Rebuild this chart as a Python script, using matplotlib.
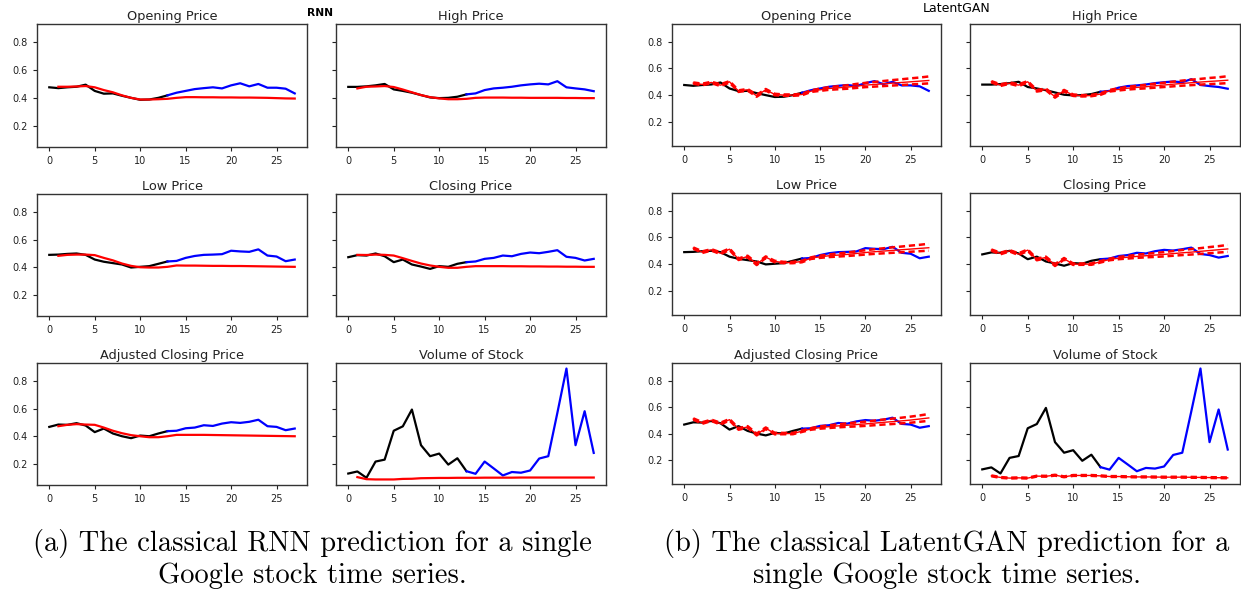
import matplotlib
matplotlib.use('Agg')
import matplotlib.pyplot as plt

# ---------------- data ----------------
titles = ["Opening Price", "High Price", "Low Price", "Closing Price",
          "Adjusted Closing Price", "Volume of Stock"]

steps = list(range(28))          # 0..27
hist_end = 13                    # black = history (0..13), blue = future (13..27)
pred_steps = list(range(1, 28))  # predictions start at step 1

open_true = [0.476, 0.47, 0.476, 0.48, 0.495, 0.45, 0.43, 0.432, 0.415, 0.40, 0.386, 0.388, 0.40, 0.418,
             0.437, 0.45, 0.463, 0.47, 0.476, 0.468, 0.49, 0.505, 0.483, 0.50, 0.473, 0.473, 0.466, 0.432]
high_true = [0.479, 0.479, 0.483, 0.49, 0.50, 0.461, 0.45, 0.437, 0.42, 0.403, 0.398, 0.40, 0.408, 0.425,
             0.432, 0.456, 0.468, 0.473, 0.48, 0.49, 0.497, 0.502, 0.497, 0.52, 0.476, 0.468, 0.461, 0.448]
low_true = [0.49, 0.492, 0.497, 0.50, 0.49, 0.456, 0.44, 0.43, 0.42, 0.398, 0.403, 0.408, 0.425, 0.442,
            0.446, 0.468, 0.482, 0.49, 0.492, 0.495, 0.52, 0.515, 0.512, 0.53, 0.485, 0.478, 0.444, 0.456]
close_true = [0.473, 0.488, 0.485, 0.50, 0.48, 0.437, 0.456, 0.42, 0.405, 0.388, 0.408, 0.403, 0.425, 0.437,
              0.442, 0.461, 0.468, 0.485, 0.48, 0.497, 0.507, 0.502, 0.512, 0.524, 0.476, 0.468, 0.449, 0.461]
adj_true = [0.468, 0.485, 0.483, 0.495, 0.478, 0.43, 0.456, 0.42, 0.40, 0.386, 0.405, 0.40, 0.42, 0.437,
            0.44, 0.458, 0.463, 0.48, 0.475, 0.492, 0.502, 0.497, 0.505, 0.52, 0.473, 0.468, 0.444, 0.456]
vol_true = [0.129, 0.144, 0.098, 0.216, 0.23, 0.44, 0.472, 0.594, 0.335, 0.255, 0.274, 0.194, 0.24, 0.146,
            0.127, 0.216, 0.166, 0.115, 0.14, 0.135, 0.151, 0.238, 0.255, 0.57, 0.892, 0.335, 0.582, 0.279]

# RNN predictions (steps 1..27)
rnn_open = [0.48, 0.48, 0.482, 0.485, 0.476, 0.456, 0.44, 0.418, 0.40, 0.388, 0.388, 0.39, 0.393, 0.40,
            0.405, 0.405, 0.404, 0.404, 0.403, 0.403, 0.402, 0.402, 0.401, 0.40, 0.398, 0.396, 0.395]
rnn_high = [0.468, 0.48, 0.482, 0.485, 0.478, 0.46, 0.44, 0.42, 0.405, 0.396, 0.39, 0.39, 0.393, 0.40,
            0.402, 0.402, 0.402, 0.401, 0.401, 0.40, 0.40, 0.40, 0.40, 0.399, 0.399, 0.398, 0.398]
rnn_low = [0.483, 0.49, 0.492, 0.492, 0.488, 0.468, 0.45, 0.427, 0.41, 0.40, 0.398, 0.398, 0.403, 0.413,
           0.412, 0.412, 0.411, 0.41, 0.41, 0.409, 0.409, 0.408, 0.407, 0.406, 0.405, 0.404, 0.403]
rnn_close = [0.49, 0.489, 0.492, 0.49, 0.485, 0.466, 0.446, 0.427, 0.413, 0.403, 0.396, 0.396, 0.403, 0.408,
             0.408, 0.408, 0.408, 0.407, 0.407, 0.406, 0.406, 0.405, 0.405, 0.404, 0.404, 0.403, 0.403]
rnn_adj = [0.473, 0.483, 0.488, 0.485, 0.483, 0.463, 0.44, 0.422, 0.408, 0.40, 0.393, 0.393, 0.40, 0.41,
           0.41, 0.41, 0.41, 0.409, 0.408, 0.407, 0.406, 0.405, 0.404, 0.403, 0.402, 0.401, 0.40]
rnn_vol = [0.103, 0.088, 0.086, 0.086, 0.086, 0.09, 0.091, 0.095, 0.096, 0.097, 0.097, 0.098, 0.098, 0.098,
           0.099, 0.099, 0.099, 0.099, 0.1, 0.1, 0.1, 0.1, 0.1, 0.1, 0.1, 0.1, 0.1]

# LatentGAN predictions (steps 1..27): mean, upper and lower
gan_open = [0.49, 0.48, 0.495, 0.475, 0.50, 0.43, 0.44, 0.395, 0.44, 0.405, 0.40, 0.40, 0.405, 0.43,
            0.44, 0.45, 0.455, 0.46, 0.468, 0.475, 0.48, 0.485, 0.49, 0.495, 0.50, 0.505, 0.51]
gan_open_hi = [0.495, 0.486, 0.50, 0.482, 0.505, 0.436, 0.446, 0.402, 0.446, 0.41, 0.405, 0.405, 0.41, 0.436,
               0.449, 0.46, 0.467, 0.474, 0.484, 0.492, 0.499, 0.506, 0.513, 0.519, 0.526, 0.532, 0.54]
gan_open_lo = [0.485, 0.474, 0.49, 0.468, 0.494, 0.424, 0.434, 0.388, 0.434, 0.399, 0.395, 0.395, 0.399, 0.424,
               0.432, 0.44, 0.444, 0.448, 0.454, 0.46, 0.464, 0.468, 0.472, 0.476, 0.48, 0.484, 0.488]

gan_high = [0.50, 0.475, 0.49, 0.475, 0.50, 0.433, 0.443, 0.388, 0.433, 0.40, 0.395, 0.397, 0.408, 0.433,
            0.443, 0.452, 0.458, 0.463, 0.47, 0.476, 0.482, 0.488, 0.493, 0.498, 0.503, 0.507, 0.512]
gan_high_hi = [0.505, 0.481, 0.495, 0.482, 0.505, 0.439, 0.449, 0.395, 0.439, 0.405, 0.40, 0.402, 0.413, 0.439,
               0.452, 0.462, 0.47, 0.477, 0.486, 0.493, 0.501, 0.509, 0.516, 0.522, 0.529, 0.534, 0.542]
gan_high_lo = [0.495, 0.469, 0.485, 0.468, 0.494, 0.427, 0.437, 0.381, 0.427, 0.394, 0.39, 0.392, 0.402, 0.427,
               0.435, 0.442, 0.447, 0.451, 0.456, 0.461, 0.466, 0.471, 0.475, 0.479, 0.483, 0.486, 0.49]

gan_low = [0.52, 0.49, 0.507, 0.482, 0.512, 0.437, 0.457, 0.40, 0.452, 0.42, 0.412, 0.412, 0.42, 0.445,
           0.455, 0.463, 0.468, 0.473, 0.48, 0.487, 0.493, 0.498, 0.503, 0.508, 0.513, 0.518, 0.523]
gan_low_hi = [0.525, 0.496, 0.512, 0.489, 0.517, 0.443, 0.463, 0.407, 0.458, 0.425, 0.417, 0.417, 0.425, 0.451,
              0.464, 0.473, 0.48, 0.487, 0.496, 0.504, 0.512, 0.519, 0.526, 0.532, 0.539, 0.545, 0.553]
gan_low_lo = [0.515, 0.484, 0.502, 0.475, 0.506, 0.431, 0.451, 0.393, 0.446, 0.414, 0.407, 0.407, 0.414, 0.439,
              0.447, 0.453, 0.457, 0.461, 0.466, 0.472, 0.477, 0.481, 0.485, 0.489, 0.493, 0.497, 0.501]

gan_close = [0.505, 0.48, 0.50, 0.475, 0.505, 0.435, 0.45, 0.393, 0.44, 0.40, 0.40, 0.40, 0.418, 0.435,
             0.445, 0.452, 0.458, 0.463, 0.468, 0.473, 0.479, 0.485, 0.49, 0.496, 0.502, 0.508, 0.514]
gan_close_hi = [0.51, 0.486, 0.505, 0.482, 0.51, 0.441, 0.456, 0.40, 0.446, 0.405, 0.405, 0.405, 0.423, 0.441,
                0.454, 0.462, 0.47, 0.477, 0.484, 0.49, 0.498, 0.506, 0.513, 0.52, 0.528, 0.535, 0.544]
gan_close_lo = [0.50, 0.474, 0.495, 0.468, 0.499, 0.429, 0.444, 0.386, 0.434, 0.394, 0.395, 0.395, 0.412, 0.429,
                0.437, 0.442, 0.447, 0.451, 0.454, 0.458, 0.463, 0.468, 0.472, 0.477, 0.482, 0.487, 0.492]

gan_adj = [0.51, 0.48, 0.50, 0.475, 0.505, 0.435, 0.45, 0.393, 0.44, 0.40, 0.40, 0.40, 0.418, 0.435,
           0.445, 0.452, 0.458, 0.463, 0.468, 0.473, 0.479, 0.485, 0.49, 0.496, 0.502, 0.51, 0.518]
gan_adj_hi = [0.515, 0.486, 0.505, 0.482, 0.51, 0.441, 0.456, 0.40, 0.446, 0.405, 0.405, 0.405, 0.423, 0.441,
              0.454, 0.462, 0.47, 0.477, 0.484, 0.49, 0.498, 0.506, 0.513, 0.52, 0.528, 0.537, 0.548]
gan_adj_lo = [0.505, 0.474, 0.495, 0.468, 0.499, 0.429, 0.444, 0.386, 0.434, 0.394, 0.395, 0.395, 0.412, 0.429,
              0.437, 0.442, 0.447, 0.451, 0.454, 0.458, 0.463, 0.468, 0.472, 0.477, 0.482, 0.489, 0.496]

gan_vol = [0.08, 0.068, 0.063, 0.065, 0.063, 0.078, 0.077, 0.085, 0.073, 0.083, 0.083, 0.083, 0.08, 0.075,
           0.075, 0.073, 0.072, 0.072, 0.071, 0.07, 0.07, 0.07, 0.069, 0.068, 0.067, 0.066, 0.065]
gan_vol_hi = [0.083, 0.071, 0.066, 0.068, 0.066, 0.081, 0.08, 0.088, 0.076, 0.086, 0.086, 0.086, 0.083, 0.078,
              0.078, 0.076, 0.075, 0.075, 0.074, 0.073, 0.073, 0.073, 0.072, 0.071, 0.07, 0.069, 0.068]
gan_vol_lo = [0.077, 0.065, 0.06, 0.062, 0.06, 0.075, 0.074, 0.082, 0.07, 0.08, 0.08, 0.08, 0.077, 0.072,
              0.072, 0.07, 0.069, 0.069, 0.068, 0.067, 0.067, 0.067, 0.066, 0.065, 0.064, 0.063, 0.062]

true_series = [open_true, high_true, low_true, close_true, adj_true, vol_true]
rnn_series = [rnn_open, rnn_high, rnn_low, rnn_close, rnn_adj, rnn_vol]
gan_series = [gan_open, gan_high, gan_low, gan_close, gan_adj, gan_vol]
gan_hi = [gan_open_hi, gan_high_hi, gan_low_hi, gan_close_hi, gan_adj_hi, gan_vol_hi]
gan_lo = [gan_open_lo, gan_high_lo, gan_low_lo, gan_close_lo, gan_adj_lo, gan_vol_lo]

caption_a = ["(a) The classical RNN prediction for a single", "Google stock time series."]
caption_b = ["(b) The classical LatentGAN prediction for a", "single Google stock time series."]

# ---------------- layout ----------------
W, H = 1241, 593
fig = plt.figure(figsize=(W / 100, H / 100), dpi=100)

def add_ax(x0, x1, y0, y1, sharey=None):
    return fig.add_axes([x0 / W, 1 - y1 / H, (x1 - x0) / W, (y1 - y0) / H], sharey=sharey)

left_cols = [(37, 307), (336, 606)]
left_rows = [(24, 147), (194, 316), (363, 485)]
right_cols = [(672, 941), (970, 1240)]
right_rows = [(24, 146), (193, 315), (363, 484)]

def style(ax, title, show_ylabels):
    ax.set_title(title, fontsize=9.3, pad=3, color='#222222')
    ax.tick_params(labelsize=7, length=3, width=0.8, colors='#222222')
    if not show_ylabels:
        ax.tick_params(labelleft=False)
    for s in ax.spines.values():
        s.set_color('#333333')
        s.set_linewidth(1.0)

def draw_true(ax, y):
    ax.plot(steps[:hist_end + 1], y[:hist_end + 1], color='black', lw=1.6)
    ax.plot(steps[hist_end:], y[hist_end:], color='#0000ff', lw=1.6)

# RNN figure
share = None
for i in range(6):
    r, c = divmod(i, 2)
    ax = add_ax(*left_cols[c], *left_rows[r], sharey=share)
    if share is None:
        share = ax
    draw_true(ax, true_series[i])
    ax.plot(pred_steps, rnn_series[i], color='#ff0000', lw=1.6)
    style(ax, titles[i], c == 0)

# LatentGAN figure
share = None
for i in range(6):
    r, c = divmod(i, 2)
    ax = add_ax(*right_cols[c], *right_rows[r], sharey=share)
    if share is None:
        share = ax
    draw_true(ax, true_series[i])
    ax.plot(pred_steps, gan_series[i], color='#ff0000', lw=1.0)
    ax.plot(pred_steps, gan_hi[i], color='#ff0000', lw=1.8, ls='--', dashes=(2.5, 1.5))
    ax.plot(pred_steps, gan_lo[i], color='#ff0000', lw=1.8, ls='--', dashes=(2.5, 1.5))
    style(ax, titles[i], c == 0)

fig.text(320 / W, 1 - 13 / H, "RNN", ha='center', va='center', fontsize=7.7, fontweight='bold')
fig.text(957 / W, 1 - 8 / H, "LatentGAN", ha='center', va='center', fontsize=9)

for cap, xc in ((caption_a, 312), (caption_b, 947)):
    fig.text(xc / W, 1 - 543 / H, cap[0], ha='center', va='center', family='cmr10', fontsize=20.5)
    fig.text(xc / W, 1 - 576 / H, cap[1], ha='center', va='center', family='cmr10', fontsize=20.5)

fig.savefig('out.png', dpi=100)
